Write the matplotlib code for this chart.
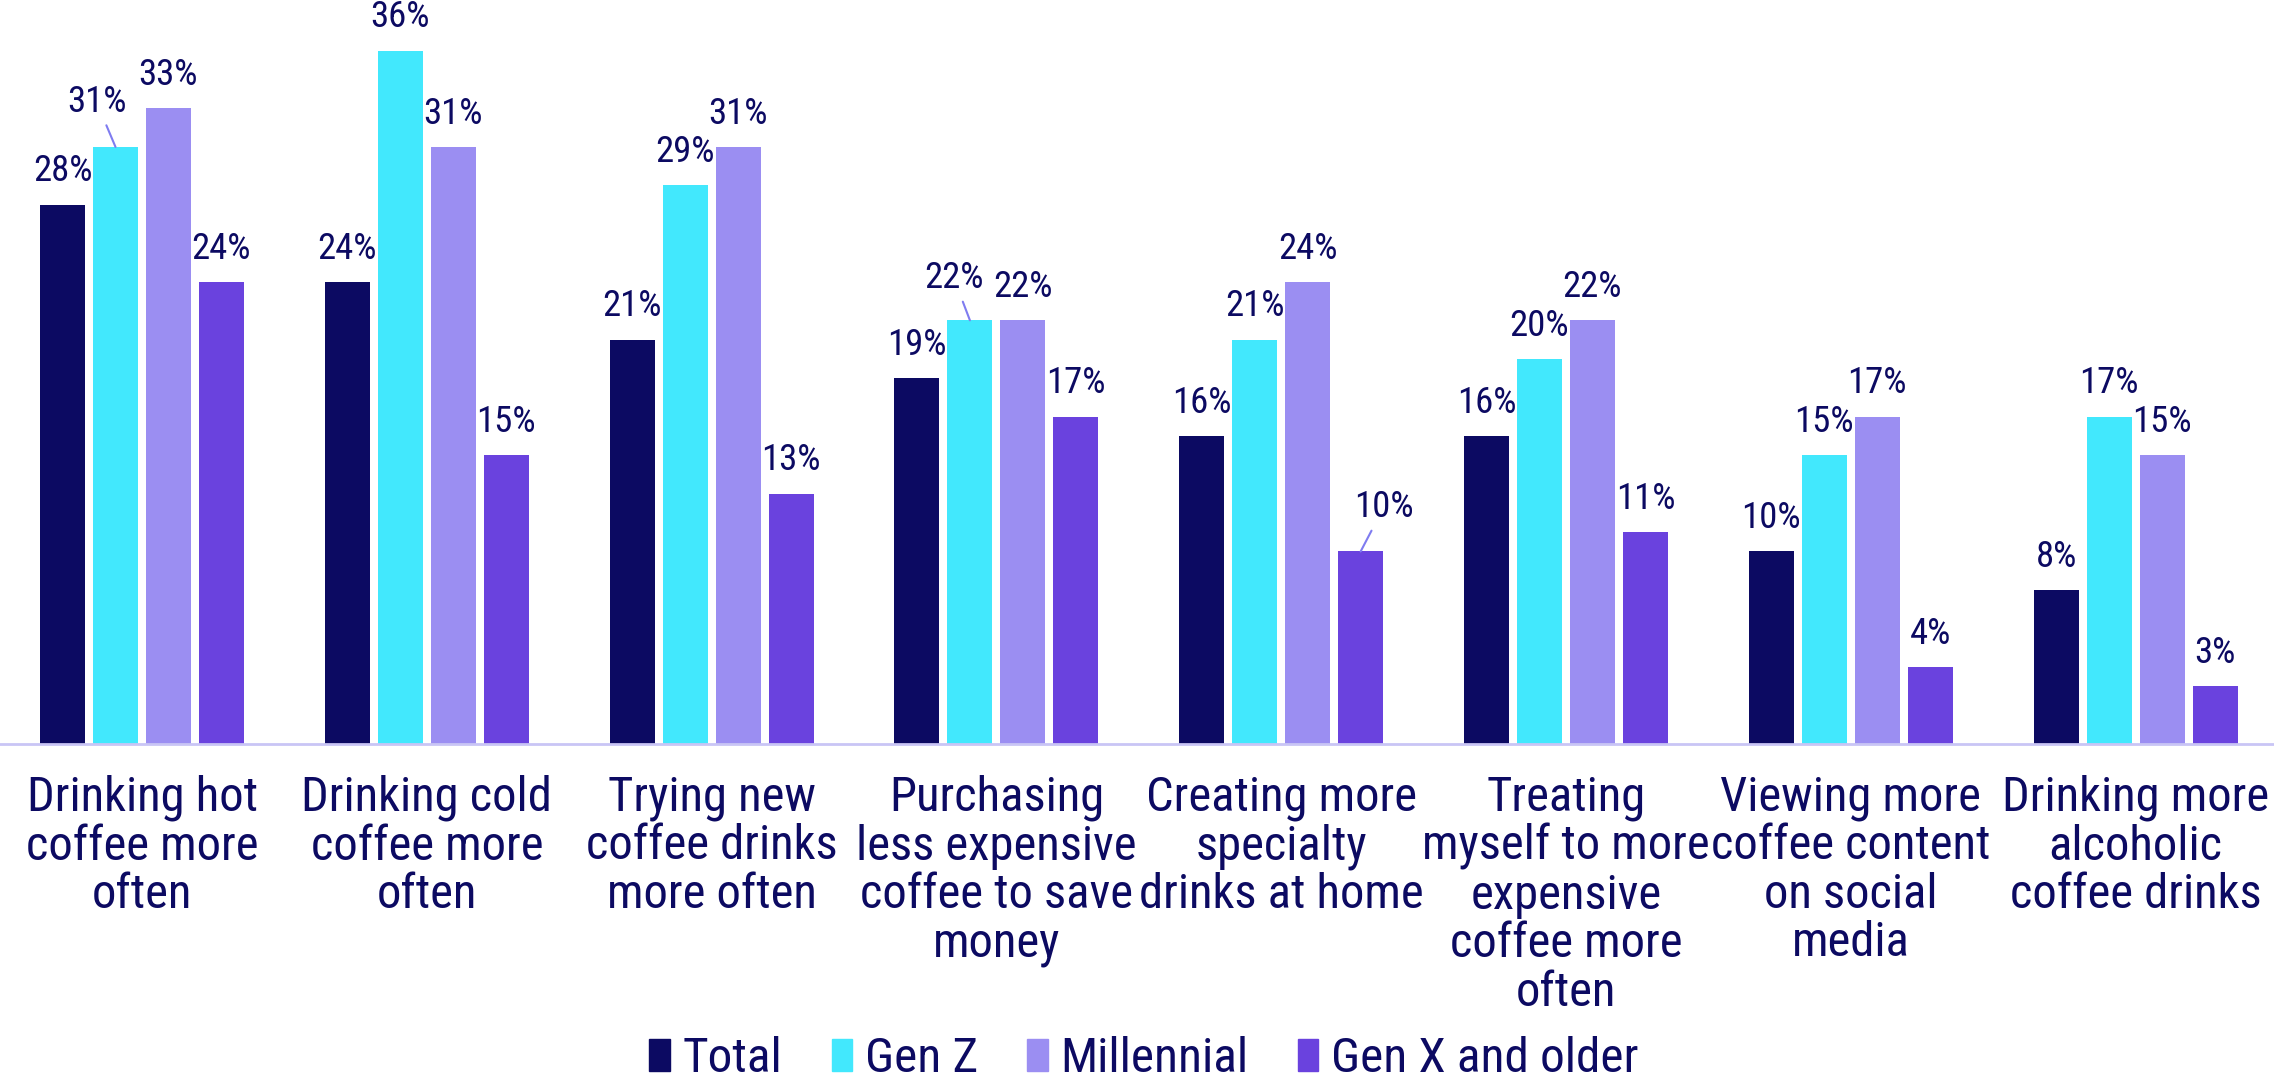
import matplotlib
matplotlib.use("Agg")
import matplotlib.pyplot as plt
import numpy as np
from matplotlib.patches import Patch

plt.rcParams["font.family"] = ["Roboto Condensed", "DejaVu Sans"]

CATEGORIES = [
    "Drinking hot\ncoffee more\noften",
    "Drinking cold\ncoffee more\noften",
    "Trying new\ncoffee drinks\nmore often",
    "Purchasing\nless expensive\ncoffee to save\nmoney",
    "Creating more\nspecialty\ndrinks at home",
    "Treating\nmyself to more\nexpensive\ncoffee more\noften",
    "Viewing more\ncoffee content\non social\nmedia",
    "Drinking more\nalcoholic\ncoffee drinks",
]
SERIES = ["Total", "Gen Z", "Millennial", "Gen X and older"]
TOTAL = [28, 24, 21, 19, 16, 16, 10, 8]
GEN_Z = [31, 36, 29, 22, 21, 20, 15, 17]
MILLENNIAL = [33, 31, 31, 22, 24, 22, 17, 15]
GEN_X = [24, 15, 13, 17, 10, 11, 4, 3]

COLORS = ["#0c0a62", "#42e8fd", "#9b8ef2", "#6a42de"]
TEXT = "#0c0a62"
LEADER = "#7f7cf0"
AXIS = "#c9c5f5"

# labels pushed aside with a short leader line: (series, group) -> (dx, dy) in px
NUDGE = {(1, 0): (-19, 27), (1, 3): (-16, 24), (3, 4): (23, 26)}

values = [TOTAL, GEN_Z, MILLENNIAL, GEN_X]
x = np.arange(len(CATEGORIES))
width = 0.158
step = 0.186

fig = plt.figure(figsize=(22.74, 10.81), dpi=100)
ax = fig.add_axes([0, 0.3117, 1, 0.6883])

for i, (name, vals) in enumerate(zip(SERIES, values)):
    pos = x + (i - 1.5) * step
    ax.bar(pos, vals, width, color=COLORS[i], label=name, zorder=2)
    for j, (px, v) in enumerate(zip(pos, vals)):
        if (i, j) in NUDGE:
            dx, dy = NUDGE[(i, j)]
            ax.annotate(f"{v}%", xy=(px, v), xytext=(dx * 0.72, dy * 0.72),
                        textcoords="offset points", ha="center", va="bottom",
                        fontsize=26.5, color=TEXT,
                        arrowprops=dict(arrowstyle="-", color=LEADER, lw=1.5,
                                        shrinkA=2, shrinkB=0))
        else:
            ax.annotate(f"{v}%", xy=(px, v), xytext=(0, 11),
                        textcoords="offset points", ha="center", va="bottom",
                        fontsize=26.5, color=TEXT)

ax.set_xlim(-0.4986, 7.486)
ax.set_ylim(0, 38.63)
ax.set_yticks([])
ax.set_xticks(x)
ax.set_xticklabels(CATEGORIES, fontsize=35, color=TEXT, linespacing=1.07)
ax.tick_params(axis="x", length=0, pad=22)
for side in ("top", "right", "left"):
    ax.spines[side].set_visible(False)
ax.spines["bottom"].set_color(AXIS)
ax.spines["bottom"].set_linewidth(2)

handles = [Patch(color=c) for c in COLORS]
fig.legend(handles, SERIES, loc="center", bbox_to_anchor=(0.503, 0.02),
           ncol=4, frameon=False, fontsize=35.5, labelcolor=TEXT,
           handlelength=0.42, handleheight=0.6, handletextpad=0.25,
           columnspacing=1.0, borderpad=0)

fig.savefig("out.png", dpi=100)
